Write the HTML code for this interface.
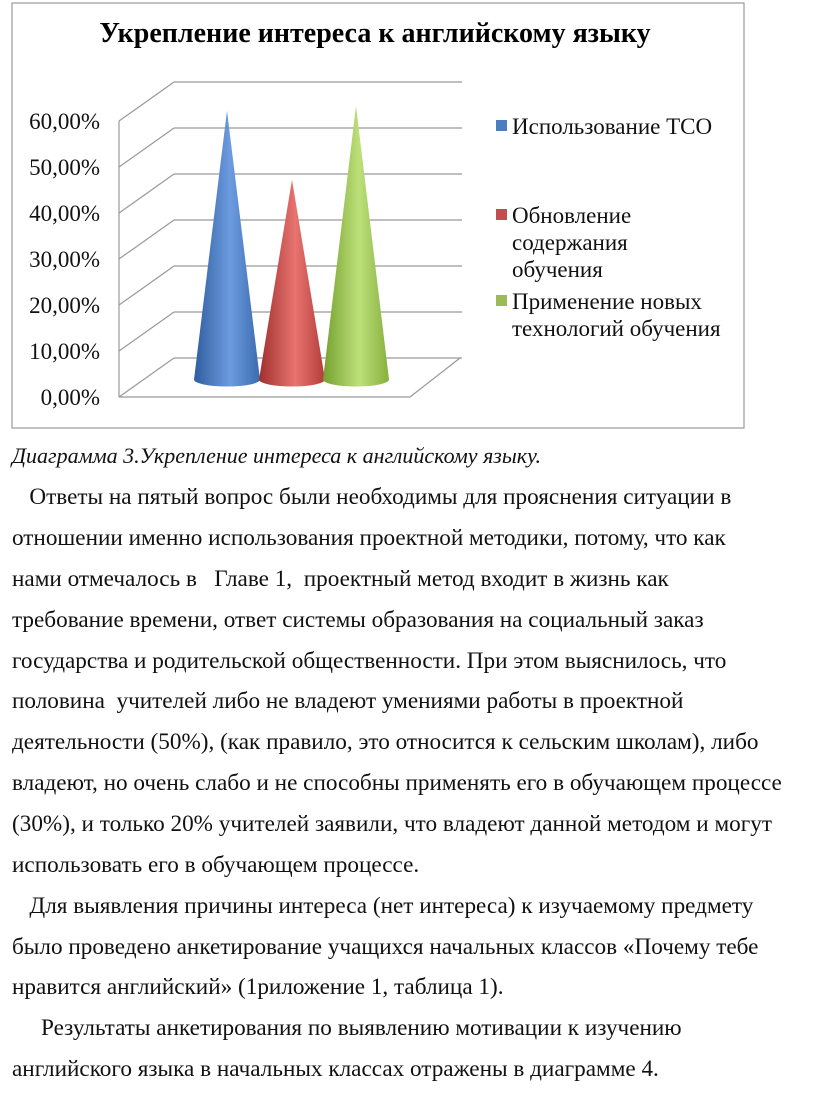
<!DOCTYPE html>
<html><head><meta charset="utf-8">
<style>
body{margin:0;width:816px;height:1096px;background:#fff;overflow:hidden;position:relative;font-family:"Liberation Serif","Noto Serif CJK SC",serif;color:#111}
#chart{position:absolute;left:0;top:0}
.p{position:absolute;left:12px;font-size:23.2px;white-space:nowrap}
</style></head><body>
<svg id="chart" width="816" height="440" xmlns="http://www.w3.org/2000/svg">
<defs>
<linearGradient id="gb" x1="0" x2="1"><stop offset="0" stop-color="#2f5e9f"/><stop offset="0.55" stop-color="#6d9be0"/><stop offset="1" stop-color="#3b6cb0"/></linearGradient>
<linearGradient id="gr" x1="0" x2="1"><stop offset="0" stop-color="#a0302e"/><stop offset="0.55" stop-color="#e87470"/><stop offset="1" stop-color="#b23c39"/></linearGradient>
<linearGradient id="gg" x1="0" x2="1"><stop offset="0" stop-color="#76a02f"/><stop offset="0.55" stop-color="#bde07a"/><stop offset="1" stop-color="#86b03d"/></linearGradient>
</defs>
<rect x="12" y="3" width="732" height="425" fill="#fff" stroke="#999" stroke-width="1.2"/>
<text x="375" y="42" text-anchor="middle" font-size="28" font-weight="bold" font-family="Liberation Serif, serif">Укрепление интереса к английскому языку</text>
<g id="grid"></g>
<g id="cones"></g>
<g id="legend"></g>
</svg>
<div class="p" style="top:443px;font-style:italic;font-size:22px">Диаграмма 3.Укрепление интереса к английскому языку.</div>
<div class="p" style="top:484px">&nbsp;&nbsp;&nbsp;Ответы на пятый вопрос были необходимы для прояснения ситуации в</div>
<div class="p" style="top:525px">отношении именно использования проектной методики, потому, что как</div>
<div class="p" style="top:566px">нами отмечалось в &nbsp;&nbsp;Главе 1, &nbsp;проектный метод входит в жизнь как</div>
<div class="p" style="top:607px">требование времени, ответ системы образования на социальный заказ</div>
<div class="p" style="top:648px">государства и родительской общественности. При этом выяснилось, что</div>
<div class="p" style="top:688px">половина &nbsp;учителей либо не владеют умениями работы в проектной</div>
<div class="p" style="top:729px">деятельности (50%), (как правило, это относится к сельским школам), либо</div>
<div class="p" style="top:770px">владеют, но очень слабо и не способны применять его в обучающем процессе</div>
<div class="p" style="top:811px">(30%), и только 20% учителей заявили, что владеют данной методом и могут</div>
<div class="p" style="top:852px">использовать его в обучающем процессе.</div>
<div class="p" style="top:893px">&nbsp;&nbsp;&nbsp;Для выявления причины интереса (нет интереса) к изучаемому предмету</div>
<div class="p" style="top:934px">было проведено анкетирование учащихся начальных классов «Почему тебе</div>
<div class="p" style="top:974px">нравится английский» (1риложение 1, таблица 1).</div>
<div class="p" style="top:1015px">&nbsp;&nbsp;&nbsp;&nbsp;&nbsp;Результаты анкетирования по выявлению мотивации к изучению</div>
<div class="p" style="top:1056px">английского языка в начальных классах отражены в диаграмме 4.</div>
<script>
const categories = ["Использование ТСО","Обновление содержания обучения","Применение новых технологий обучения"];
const values = [0.58, 0.43, 0.59];
const ticks = [0,0.1,0.2,0.3,0.4,0.5,0.6];
const tickLabels = ["0,00%","10,00%","20,00%","30,00%","40,00%","50,00%","60,00%"];
const colors = ["#4a7ebf","#c0504d","#9bbb59"];
const NS="http://www.w3.org/2000/svg";
function mk(t,a,p){const e=document.createElementNS(NS,t);for(const k in a)e.setAttribute(k,a[k]);p.appendChild(e);return e;}
const pxPer=460;
const frontX0=119, frontX1=410, frontY0=397, dx=55, dy=39;
function yFront(v){return frontY0 - v*pxPer;}
function yMid(v){return frontY0 - dy/2 - v*pxPer;}
const grid=document.getElementById('grid');
ticks.forEach((t,i)=>{
  const yf=yFront(t), yb=yf-dy;
  const l1=mk('line',{x1:frontX0,y1:yf,x2:frontX0+dx,y2:yb,stroke:'#999','stroke-width':1.2},grid);
  
  
  const l2=mk('line',{x1:frontX0+dx,y1:yb,x2:frontX1+dx-3,y2:yb,stroke:'#999','stroke-width':1.2},grid);
  
  
  const tx=mk('text',{x:100,y:yf+8,'text-anchor':'end','font-size':23,'font-family':'Liberation Serif, serif',fill:'#111'},grid);
  tx.textContent=tickLabels[i];
  
  
});
const ax=mk('line',{x1:frontX0,y1:yFront(0),x2:frontX0,y2:yFront(0.6),stroke:'#999','stroke-width':1.2},grid);


const fl=mk('polyline',{points:`${frontX0},${frontY0} ${frontX1},${frontY0} ${frontX1+dx-5},${frontY0-dy}`,fill:'none',stroke:'#999','stroke-width':1.2},grid);


const cones=document.getElementById('cones');
const centers=[227,292,356], grads=['gb','gr','gg'];
values.forEach((v,i)=>{
  const cx=centers[i], base=yMid(0)+2, tip=yMid(v), r=33;
  const p=mk('path',{d:`M${cx},${tip} L${cx+r},${base} A${r},7 0 0 1 ${cx-r},${base} Z`,fill:`url(#${grads[i]})`},cones);
  
  
});
const lg=document.getElementById('legend');
const lgY=[[134],[223,250,277],[309,336]];
const lgLines=[["Использование ТСО"],["Обновление","содержания","обучения"],["Применение новых","технологий обучения"]];
lgLines.forEach((lines,i)=>{
  const r=mk('rect',{x:496,y:lgY[i][0]-14,width:11,height:11,fill:colors[i]},lg);
  
  
  lines.forEach((s,j)=>{
    const t=mk('text',{x:512,y:lgY[i][j],'font-size':23,'font-family':'Liberation Serif, serif',fill:'#111'},lg);
    t.textContent=s;
    
    
  });
});
</script>
</body></html>
